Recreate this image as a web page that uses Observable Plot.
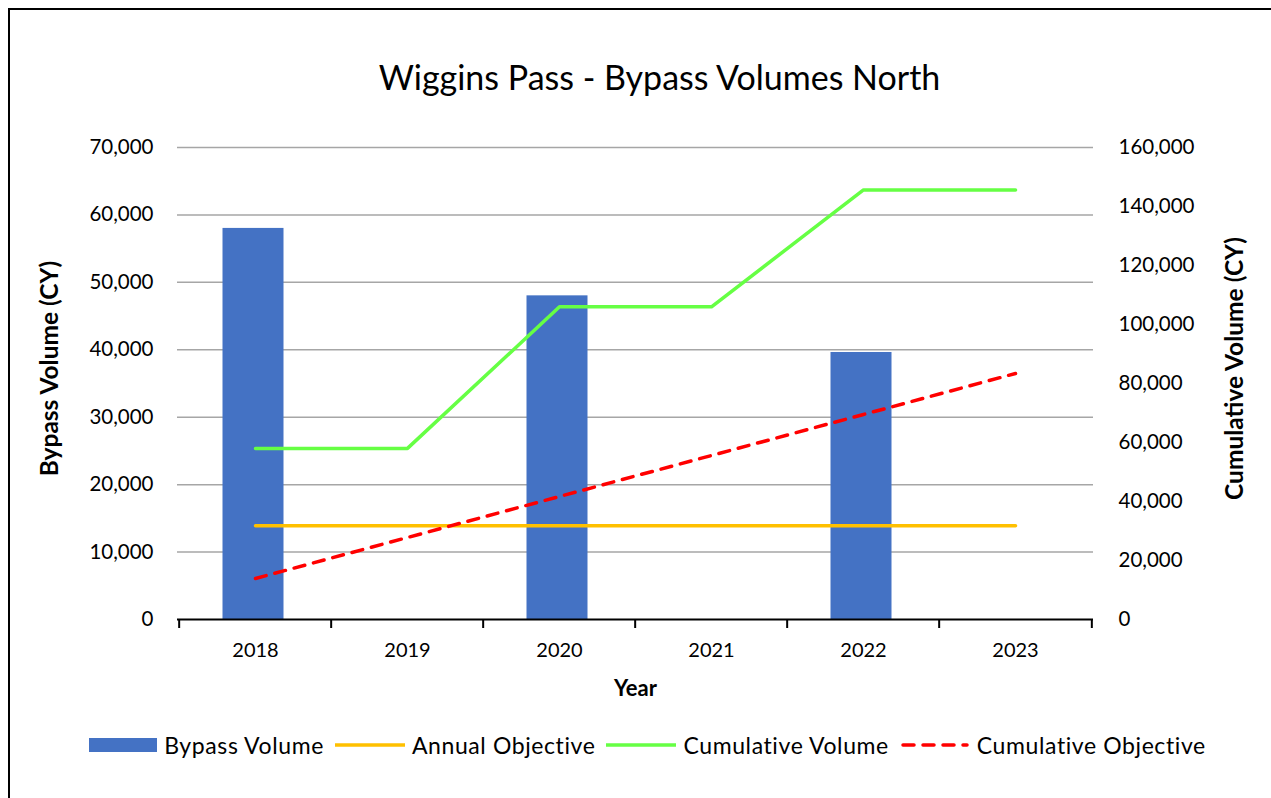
<!DOCTYPE html>
<html><head><meta charset="utf-8">
<script src="https://cdn.jsdelivr.net/npm/d3@7"></script>
<script src="https://cdn.jsdelivr.net/npm/@observablehq/plot@0.6"></script>
<style>
body{margin:0;background:#fff;font-family:Lato,"Open Sans",sans-serif;width:1271px;height:798px;overflow:hidden;position:relative;}
#frame{position:absolute;left:8px;top:8px;width:1263px;height:790px;border-left:2px solid #000;border-top:2px solid #000;box-sizing:border-box;z-index:5;pointer-events:none;}
#title{position:absolute;left:24px;width:1271px;top:57px;text-align:center;font-size:34px;color:#000;line-height:40px;}
#chart{position:absolute;left:0;top:120px;}
#legend{position:absolute;top:731px;left:0;width:1306px;display:flex;justify-content:center;align-items:center;font-size:23px;letter-spacing:0.6px;color:#000;}
#legend .item{display:flex;align-items:center;margin-right:11px;}
#legend .sw{margin-right:7px;}
</style></head>
<body>
<div id="frame"></div>
<div id="title">Wiggins Pass - Bypass Volumes North</div>
<div id="chart"></div>
<div id="legend"></div>
<script>
const years = ["2018","2019","2020","2021","2022","2023"];
const bypassVolume = [58000, null, 48000, null, 39600, null];
const annualObjective = [13900, 13900, 13900, 13900, 13900, 13900];
const cumulativeVolume = [58000, 58000, 106000, 106000, 145600, 145600];
const cumulativeObjective = [13900, 27800, 41700, 55600, 69500, 83400];
const leftTicks = [0, 10000, 20000, 30000, 40000, 50000, 60000, 70000];
const rightTicks = [0, 20000, 40000, 60000, 80000, 100000, 120000, 140000, 160000];
const seriesNames = ["Bypass Volume", "Annual Objective", "Cumulative Volume", "Cumulative Objective"];
const seriesColors = ["#4472C4", "#FFC000", "#66FF44", "#FF0000"];

const leftMax = 70000, rightMax = 160000;
const ratio = leftMax / rightMax;

const rows = years.map((year, i) => ({
  year,
  bypass: bypassVolume[i],
  annual: annualObjective[i],
  cumVol: cumulativeVolume[i],
  cumObj: cumulativeObjective[i]
}));
const barRows = rows.filter(d => d.bypass != null);

const W = 1271, H = 600, mL = 177, mR = 178, mT = 27, mB = 101;
const bw = (W - mL - mR) / years.length;
const fmt = d3.format(",");

const chart = Plot.plot({
  width: W, height: H,
  marginLeft: mL, marginRight: mR, marginTop: mT, marginBottom: mB,
  style: {fontFamily: "Lato, 'Open Sans', sans-serif", fontSize: "20px", color: "#000", background: "transparent"},
  x: {domain: years, padding: 0, axis: null},
  y: {domain: [0, leftMax], axis: null},
  marks: [
    Plot.gridY(leftTicks.filter(d => d > 0), {stroke: "#A6A6A6", strokeOpacity: 1, strokeWidth: 1.5}),
    Plot.barY(barRows, {x: "year", y: "bypass", fill: seriesColors[0], insetLeft: 45.5, insetRight: 45.5, dx: -2}),
    Plot.ruleY([0], {stroke: "#000", strokeWidth: 2}),
    Plot.axisX(years, {tickSize: 9, text: null, label: null, dx: -bw / 2, stroke: "#000", strokeWidth: 2}),
    Plot.axisX([years[years.length - 1]], {tickSize: 9, text: null, label: null, dx: bw / 2, stroke: "#000", strokeWidth: 2}),
    Plot.axisX(years, {tickSize: 0, tickPadding: 23, label: null, fontSize: 20}),
    Plot.axisY(leftTicks, {anchor: "left", tickSize: 0, tickPadding: 24, tickFormat: fmt, label: null, fontSize: 20.5}),
    Plot.axisY(rightTicks.map(v => v * ratio), {anchor: "right", tickSize: 0, tickPadding: 25, tickFormat: d => fmt(Math.round(d / ratio)), label: null, fontSize: 20.5}),
    Plot.lineY(rows, {x: "year", y: "annual", stroke: seriesColors[1], strokeWidth: 3.5}),
    Plot.lineY(rows, {x: "year", y: d => d.cumVol * ratio, stroke: seriesColors[2], strokeWidth: 3.5}),
    Plot.lineY(rows, {x: "year", y: d => d.cumObj * ratio, stroke: seriesColors[3], strokeWidth: 3.5, strokeDasharray: "11,9", strokeLinecap: "round"}),
    Plot.text(["Bypass Volume (CY)"], {frameAnchor: "left", textAnchor: "middle", rotate: -90, dx: -127, dy: -15, fontWeight: "bold", fontSize: 24.5}),
    Plot.text(["Cumulative Volume (CY)"], {frameAnchor: "right", textAnchor: "middle", rotate: -90, dx: 142, dy: -15, fontWeight: "bold", fontSize: 24.5}),
    Plot.text(["Year"], {frameAnchor: "bottom", dy: 76, fontWeight: "bold", fontSize: 22})
  ]
});
document.getElementById("chart").appendChild(chart);

const legend = document.getElementById("legend");
seriesNames.forEach((name, i) => {
  const item = document.createElement("div");
  item.className = "item";
  let sw;
  if (i === 0) {
    sw = `<svg class="sw" width="68" height="16"><rect x="0" y="1" width="68" height="14" fill="${seriesColors[i]}"/></svg>`;
  } else {
    const dash = i === 3 ? 'stroke-dasharray="11,9" stroke-linecap="round"' : '';
    sw = `<svg class="sw" width="70" height="16"><line x1="${i===3?3:0}" y1="8" x2="${i===3?67:70}" y2="8" stroke="${seriesColors[i]}" stroke-width="3.5" ${dash}/></svg>`;
  }
  item.innerHTML = sw + `<span>${name}</span>`;
  legend.appendChild(item);
});
</script>
</body></html>
